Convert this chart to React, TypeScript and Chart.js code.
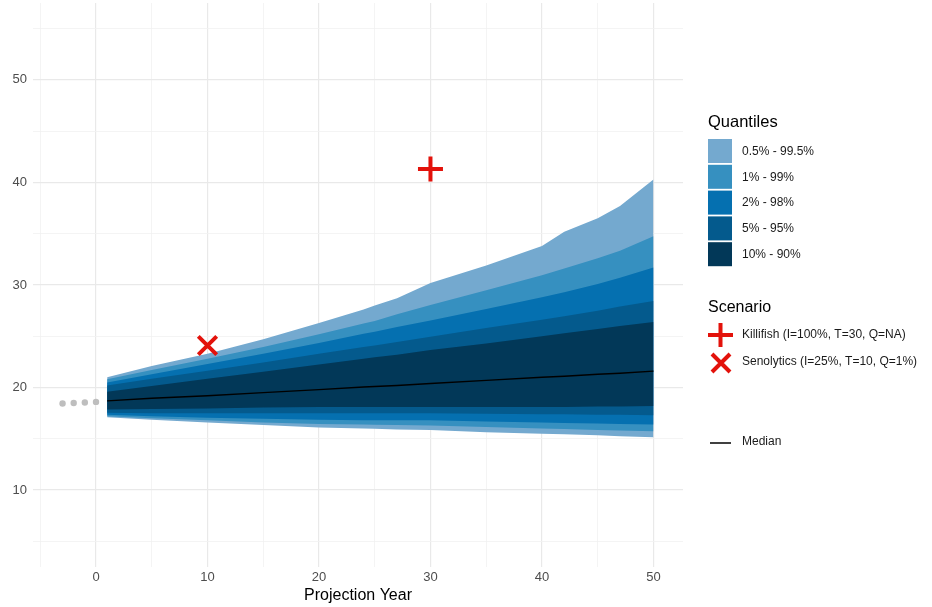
import React, { useEffect, useRef } from 'react';
import { Chart, registerables } from 'chart.js';

Chart.register(...registerables);

const FONT = '"Liberation Sans", Arial, Helvetica, sans-serif';

// Projection years (x) for the fan chart
const years = [1, 5, 10, 15, 20, 24, 25, 27, 30, 35, 40, 42, 45, 47, 50];

// Quantile boundaries
const q995 = [21.0, 22.1, 23.3, 24.7, 26.3, 27.6, 28.0, 28.7, 30.2, 31.9, 33.8, 35.2, 36.5, 37.7, 40.3];
const q99 = [20.8, 21.7, 22.8, 23.95, 25.2, 26.25, 26.5, 27.15, 28.05, 29.5, 30.95, 31.6, 32.6, 33.35, 34.75];
const q98 = [20.5, 21.3, 22.3, 23.3, 24.35, 25.25, 25.45, 25.9, 26.55, 27.65, 28.8, 29.3, 30.1, 30.7, 31.7];
const q95 = [20.2, 20.85, 21.65, 22.45, 23.3, 23.95, 24.1, 24.45, 24.95, 25.8, 26.6, 26.95, 27.5, 27.9, 28.45];
const q90 = [19.6, 20.15, 20.85, 21.55, 22.25, 22.8, 22.95, 23.2, 23.65, 24.3, 25.0, 25.3, 25.7, 26.0, 26.4];
const median = [18.7, 18.95, 19.2, 19.5, 19.8, 20.05, 20.1, 20.2, 20.4, 20.7, 21.0, 21.1, 21.3, 21.4, 21.6];
const q10 = [17.85, 17.9, 17.95, 18.05, 18.1, 18.1, 18.1, 18.1, 18.1, 18.1, 18.1, 18.1, 18.15, 18.15, 18.2];
const q05 = [17.55, 17.5, 17.5, 17.5, 17.5, 17.5, 17.5, 17.5, 17.5, 17.45, 17.4, 17.4, 17.35, 17.35, 17.3];
const q02 = [17.35, 17.2, 17.05, 16.95, 16.85, 16.8, 16.8, 16.8, 16.8, 16.7, 16.6, 16.55, 16.5, 16.45, 16.4];
const q01 = [17.2, 17.0, 16.8, 16.6, 16.45, 16.4, 16.38, 16.35, 16.3, 16.15, 16.0, 15.95, 15.85, 15.8, 15.75];
const q005 = [17.1, 16.85, 16.6, 16.35, 16.1, 16.0, 15.98, 15.92, 15.85, 15.65, 15.5, 15.45, 15.35, 15.25, 15.15];

// Historical observations
const histYears = [-3, -2, -1, 0];
const histValues = [18.44, 18.5, 18.54, 18.6];

// Scenarios
const killifish = { x: 30, y: 41.3 };
const senolytics = { x: 10, y: 24.1 };

const bandLabels = ['0.5% - 99.5%', '1% - 99%', '2% - 98%', '5% - 95%', '10% - 90%'];
const bandColors = ['#74a9cf', '#3690c0', '#0570b0', '#045a8d', '#023858'];
const bandLower = [q005, q01, q02, q05, q10];
const bandUpper = [q995, q99, q98, q95, q90];

const xTicks = [-5, 0, 5, 10, 15, 20, 25, 30, 35, 40, 45, 50];
const yTicks = [5, 10, 15, 20, 25, 30, 35, 40, 45, 50, 55];

const RED = '#e3120b';

const pts = (arr: number[]) => years.map((x, i) => ({ x, y: arr[i] }));

const legendPlugin = {
  id: 'customLegend',
  afterDraw(chart: any) {
    const ctx = chart.ctx as CanvasRenderingContext2D;
    ctx.save();
    ctx.textBaseline = 'middle';
    ctx.textAlign = 'left';
    ctx.fillStyle = '#000';
    ctx.font = `16.5px ${FONT}`;
    ctx.fillText('Quantiles', 708, 122);
    bandLabels.forEach((lab, i) => {
      const y = 139 + i * 25.8;
      ctx.fillStyle = bandColors[i];
      ctx.fillRect(708, y, 24, 24);
      ctx.fillStyle = '#1a1a1a';
      ctx.font = `12px ${FONT}`;
      ctx.fillText(lab, 742, y + 12.5);
    });
    ctx.fillStyle = '#000';
    ctx.font = `16px ${FONT}`;
    ctx.fillText('Scenario', 708, 308);
    // plus
    ctx.strokeStyle = RED;
    ctx.lineWidth = 4;
    ctx.beginPath();
    ctx.moveTo(708, 335);
    ctx.lineTo(733, 335);
    ctx.moveTo(720.5, 323);
    ctx.lineTo(720.5, 347);
    ctx.stroke();
    // x
    ctx.beginPath();
    ctx.moveTo(712, 354);
    ctx.lineTo(730, 372);
    ctx.moveTo(730, 354);
    ctx.lineTo(712, 372);
    ctx.stroke();
    ctx.fillStyle = '#1a1a1a';
    ctx.font = `12px ${FONT}`;
    ctx.fillText('Killifish (I=100%, T=30, Q=NA)', 742, 335);
    ctx.fillText('Senolytics (I=25%, T=10, Q=1%)', 742, 362);
    // median
    ctx.strokeStyle = '#000';
    ctx.lineWidth = 1.5;
    ctx.beginPath();
    ctx.moveTo(710, 443);
    ctx.lineTo(731, 443);
    ctx.stroke();
    ctx.fillText('Median', 742, 442);
    ctx.restore();
  },
};

export default function App() {
  const ref = useRef<HTMLCanvasElement>(null);

  useEffect(() => {
    document.body.style.margin = '0';
    const datasets: any[] = [];
    bandLabels.forEach((lab, i) => {
      const loIdx = datasets.length;
      datasets.push({
        label: lab + ' lower',
        data: pts(bandLower[i]),
        fill: false,
        borderWidth: 0,
        borderColor: 'rgba(0,0,0,0)',
        pointRadius: 0,
        order: 20 - i,
      });
      datasets.push({
        label: lab,
        data: pts(bandUpper[i]),
        fill: { target: loIdx },
        backgroundColor: bandColors[i],
        borderWidth: 0,
        borderColor: 'rgba(0,0,0,0)',
        pointRadius: 0,
        order: 20 - i,
      });
    });
    datasets.push({
      label: 'Median',
      data: pts(median),
      borderColor: '#000',
      borderWidth: 1.4,
      pointRadius: 0,
      fill: false,
      order: 3,
    });
    datasets.push({
      label: 'History',
      data: histYears.map((x, i) => ({ x, y: histValues[i] })),
      showLine: false,
      pointRadius: 3.2,
      pointBackgroundColor: '#bebebe',
      pointBorderColor: '#bebebe',
      pointBorderWidth: 0,
      fill: false,
      order: 2,
    });
    datasets.push({
      label: 'Killifish',
      data: [killifish],
      showLine: false,
      pointStyle: 'cross',
      pointRadius: 12.5,
      pointBorderColor: RED,
      pointBorderWidth: 4,
      borderColor: RED,
      fill: false,
      order: 1,
    });
    datasets.push({
      label: 'Senolytics',
      data: [senolytics],
      showLine: false,
      pointStyle: 'crossRot',
      pointRadius: 13,
      pointBorderColor: RED,
      pointBorderWidth: 4,
      borderColor: RED,
      fill: false,
      order: 0,
    });

    const gridColor = (c: any) => (c.tick && c.tick.value % 10 === 0 ? '#e9e9e9' : '#f1f1f1');
    const gridWidth = (c: any) => (c.tick && c.tick.value % 10 === 0 ? 1.2 : 0.8);

    const chart = new Chart(ref.current!, {
      type: 'line',
      data: { datasets },
      options: {
        animation: false,
        responsive: false,
        events: [],
        layout: { autoPadding: false, padding: { left: 0, right: 249, top: 3, bottom: 0 } },
        plugins: {
          legend: { display: false },
          tooltip: { enabled: false },
        },
        scales: {
          x: {
            type: 'linear',
            min: -5.65,
            max: 52.65,
            afterBuildTicks: (s: any) => {
              s.ticks = xTicks.map((v) => ({ value: v }));
            },
            afterFit: (s: any) => {
              s.height = 40;
              s.paddingLeft = 0;
              s.paddingRight = 0;
            },
            ticks: {
              autoSkip: false,
              maxRotation: 0,
              padding: 3,
              color: '#4d4d4d',
              font: { size: 13, family: FONT },
              callback: (v: any) => (Number(v) % 10 === 0 ? String(v) : ''),
            },
            grid: { color: gridColor, lineWidth: gridWidth, drawTicks: false },
            border: { display: false },
            title: {
              display: true,
              text: 'Projection Year',
              color: '#000',
              font: { size: 16, family: FONT },
              padding: { top: 0, bottom: 1.4 },
            },
          },
          y: {
            type: 'linear',
            min: 2.5,
            max: 57.5,
            afterBuildTicks: (s: any) => {
              s.ticks = yTicks.map((v) => ({ value: v }));
            },
            afterFit: (s: any) => {
              s.width = 33;
              s.paddingTop = 0;
              s.paddingBottom = 0;
            },
            ticks: {
              autoSkip: false,
              padding: 6,
              color: '#4d4d4d',
              font: { size: 13, family: FONT },
              callback: (v: any) => (Number(v) % 10 === 0 ? String(v) : ''),
            },
            grid: { color: gridColor, lineWidth: gridWidth, drawTicks: false },
            border: { display: false },
          },
        },
      },
      plugins: [legendPlugin],
    } as any);
    return () => chart.destroy();
  }, []);

  return (
    <div style={{ width: 932, height: 607 }}>
      <canvas ref={ref} width={932} height={607} style={{ display: 'block' }} />
    </div>
  );
}
